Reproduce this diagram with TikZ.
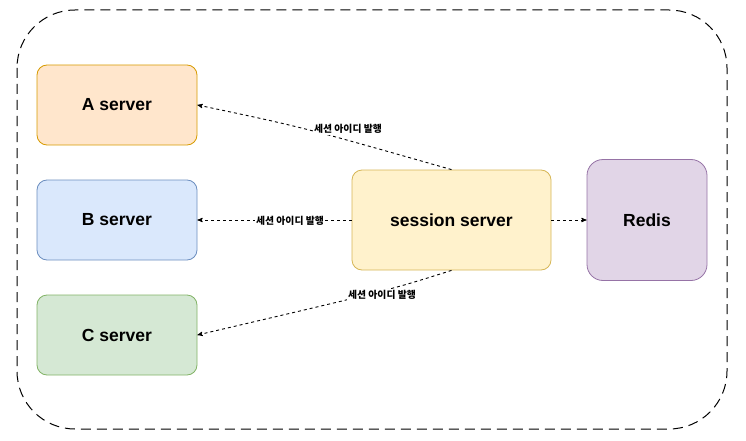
\documentclass[tikz,border=0pt]{standalone}
\usepackage{fontspec}
\setmainfont{Liberation Sans}
\newfontfamily\kr{Noto Sans CJK KR}
\usepackage{xcolor}
\usepackage{tikz}
\usetikzlibrary{shapes, arrows}

\definecolor{afill}{HTML}{FFE6CC}
\definecolor{aline}{HTML}{D79B00}
\definecolor{bfill}{HTML}{DAE8FC}
\definecolor{bline}{HTML}{6C8EBF}
\definecolor{cfill}{HTML}{D5E8D4}
\definecolor{cline}{HTML}{82B366}
\definecolor{sfill}{HTML}{FFF2CC}
\definecolor{sline}{HTML}{D6B656}
\definecolor{rfill}{HTML}{E1D5E7}
\definecolor{rline}{HTML}{9673A6}

\tikzstyle{block} = [draw, rectangle, rounded corners=10pt, line width=0.8pt, minimum height=80pt, minimum width=160pt, font=\fontsize{17.5}{20}\selectfont\bfseries]
\tikzstyle{issue} = [draw, ->, line width=0.9pt, dash pattern=on 3pt off 3pt]
\tikzstyle{tag} = [fill=white, inner sep=1pt, font=\kr\fontsize{9.8}{11}\selectfont\bfseries]

\begin{document}
\begin{tikzpicture}[x=1pt, y=-1pt, >=stealth']
  \useasboundingbox (0, 0) rectangle (746, 441);

  % group frame
  \draw[line width=1pt, dash pattern=on 10pt off 6pt, rounded corners=58pt] (17, 10) rectangle (727, 429);

  \node[block, fill=afill, draw=aline] at (117, 105) (aserver) {A server};
  \node[block, fill=bfill, draw=bline] at (117, 220) (bserver) {B server};
  \node[block, fill=cfill, draw=cline] at (117, 335) (cserver) {C server};
  \node[block, fill=sfill, draw=sline, minimum width=199pt, minimum height=100pt] at (451.5, 220) (session) {session server};
  \node[block, fill=rfill, draw=rline, minimum width=120pt, minimum height=121pt, rounded corners=16pt] at (647, 220) (redis) {Redis};

  \draw[issue] (session.north) .. controls (302, 127) .. (aserver.east);
  \draw[issue] (session.west) -- (bserver.east);
  \draw[issue] (session.south) .. controls (390, 290) .. (cserver.east);
  \draw[issue] (session.east) -- (redis.west);

  \node[tag] at (348, 129) (tagA) {세션 아이디 발행};
  \node[tag] at (290, 221) (tagB) {세션 아이디 발행};
  \node[tag] at (382, 295) (tagC) {세션 아이디 발행};

\end{tikzpicture}
\end{document}
